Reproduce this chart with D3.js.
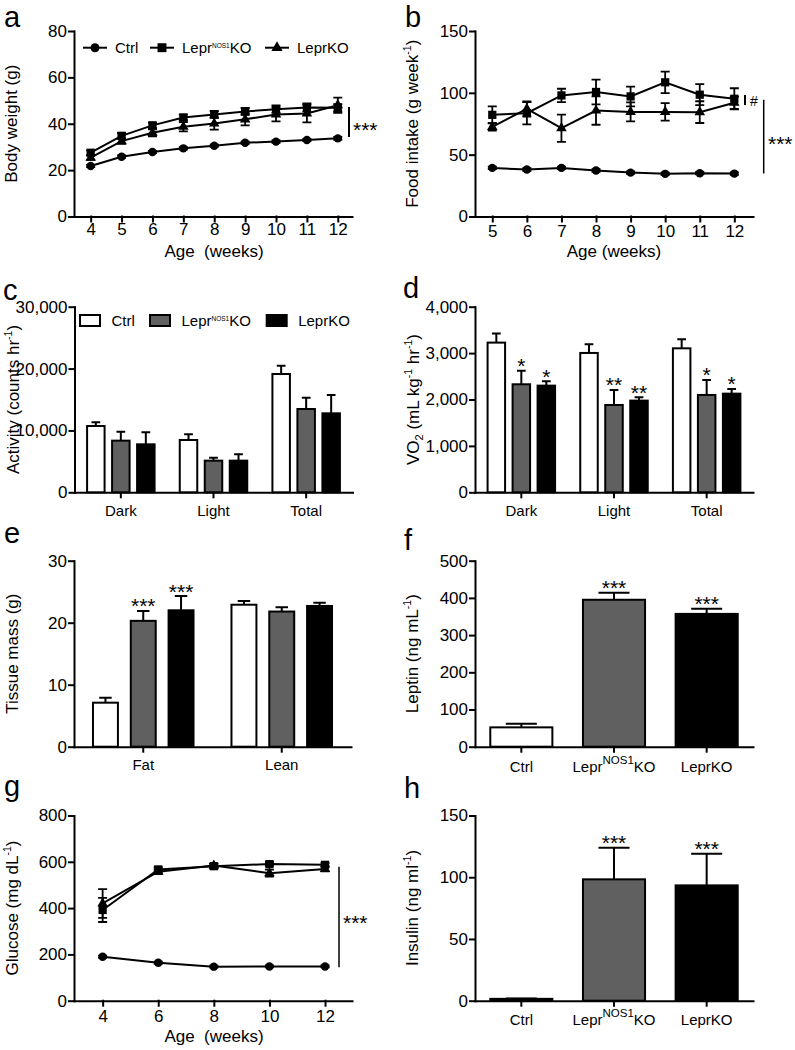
<!DOCTYPE html>
<html><head><meta charset="utf-8">
<script src="https://cdn.jsdelivr.net/npm/d3@7"></script>
<style>
body{margin:0;background:#fff;}
svg{display:block;font-family:"Liberation Sans",Arial,Helvetica,sans-serif;}
.axis path,.axis line{stroke:#000;stroke-width:2;stroke-linecap:square;}
.axis text{font-size:17px;fill:#000;font-family:"Liberation Sans",Arial,sans-serif;}
</style></head><body>
<script>
// ================= DATA =================
const seriesNames = ["Ctrl", "LeprNOS1KO", "LeprKO"];
// a: body weight
const aWeeks = [4, 5, 6, 7, 8, 9, 10, 11, 12];
const aCtrl = [21.8, 25.8, 27.8, 29.4, 30.5, 31.8, 32.3, 33.0, 33.7];
const aCtrlErr = [0.5, 0.5, 0.5, 0.5, 0.5, 0.5, 0.5, 0.5, 0.6];
const aNos1 = [27.5, 34.8, 39.3, 42.7, 44.0, 45.3, 46.3, 47.0, 46.9];
const aNos1Err = [1.0, 1.2, 1.2, 1.2, 1.5, 1.5, 1.6, 1.8, 1.6];
const aLepr = [25.4, 32.5, 36.1, 38.7, 40.1, 41.9, 44.0, 44.4, 48.0];
const aLeprErr = [1.0, 1.2, 1.5, 2.0, 2.6, 2.6, 3.0, 3.8, 3.3];
const aYTicks = [0, 20, 40, 60, 80];
const aBracket = [34.3, 47.2];
// b: food intake
const bWeeks = [5, 6, 7, 8, 9, 10, 11, 12];
const bCtrl = [39.3, 38.0, 39.3, 37.2, 35.5, 34.5, 35.0, 34.7];
const bCtrlErr = [1, 1, 1, 1, 1, 1, 1, 1];
const bNos1 = [82.2, 83.5, 97.9, 100.7, 97.1, 108.5, 98.5, 95.2];
const bNos1Err = [6.8, 9.0, 5.4, 10.0, 8.0, 8.7, 8.5, 8.5];
const bLepr = [72.5, 87.0, 71.4, 85.7, 84.6, 84.6, 84.4, 92.0];
const bLeprErr = [3.0, 6.0, 11.0, 11.5, 7.7, 7.0, 8.8, 5.0];
const bYTicks = [0, 50, 100, 150];
const bHash = [90.2, 98.3];
const bBracket = [34.8, 94.4];
// c: activity
const cGroups = ["Dark", "Light", "Total"];
const cCtrl = [10716, 8455, 19120];
const cCtrlErr = [593, 915, 1347];
const cNos1 = [8347, 5116, 13466];
const cNos1Err = [1454, 485, 1830];
const cLepr = [7755, 5116, 12765];
const cLeprErr = [1938, 1023, 2962];
const cYTicks = [0, 10000, 20000, 30000];
// d: VO2
const dGroups = ["Dark", "Light", "Total"];
const dCtrl = [3226, 3003, 3103];
const dCtrlErr = [194, 187, 194];
const dNos1 = [2328, 1882, 2098];
const dNos1Err = [294, 323, 323];
const dLepr = [2299, 1976, 2126];
const dLeprErr = [93, 71, 101];
const dNos1Stars = ["*", "**", "*"];
const dLeprStars = ["*", "**", "*"];
const dYTicks = [0, 1000, 2000, 3000, 4000];
// e: tissue mass
const eGroups = ["Fat", "Lean"];
const eCtrl = [7.1, 22.9];
const eCtrlErr = [0.8, 0.6];
const eNos1 = [20.3, 21.8];
const eNos1Err = [1.6, 0.7];
const eLepr = [22.0, 22.7];
const eLeprErr = [2.3, 0.5];
const eNos1Stars = ["***", ""];
const eLeprStars = ["***", ""];
const eYTicks = [0, 10, 20, 30];
// f: leptin
const fCats = ["Ctrl", "LeprNOS1KO", "LeprKO"];
const fVals = [52, 395, 357];
const fErr = [10, 19, 14];
const fStars = ["", "***", "***"];
const fYTicks = [0, 100, 200, 300, 400, 500];
// g: glucose
const gWeeks = [4, 6, 8, 10, 12];
const gCtrl = [190, 164, 147, 148, 148];
const gCtrlErr = [5, 5, 4, 4, 4];
const gNos1 = [392, 567, 581, 590, 587];
const gNos1Err = [52, 10, 10, 8, 8];
const gLepr = [420, 557, 584, 551, 569];
const gLeprErr = [62, 10, 8, 15, 10];
const gYTicks = [0, 200, 400, 600, 800];
const gBracket = [144, 579];
// h: insulin
const hCats = ["Ctrl", "LeprNOS1KO", "LeprKO"];
const hVals = [1.5, 98.3, 93.4];
const hErr = [0.3, 25.6, 25.6];
const hStars = ["", "***", "***"];
const hYTicks = [0, 50, 100, 150];

// ================= DRAWING =================
const FONT = '"Liberation Sans",Arial,sans-serif';
const GRAY = "#606060";
const fills = { "Ctrl": "#fff", "LeprNOS1KO": GRAY, "LeprKO": "#000" };
const svg = d3.select("body").append("svg").attr("width", 795).attr("height", 1050);

function rich(sel, parts, size) {
  sel.text(null);
  let pending = 0;
  parts.forEach(p => {
    if (typeof p === "string") {
      const t = sel.append("tspan").attr("font-size", size).text(p);
      if (pending) t.attr("dy", pending);
      pending = 0;
    } else if (p.sup !== undefined) {
      const fs = p.size || size * 0.62;
      const sh = p.shift || size * 0.42;
      sel.append("tspan").attr("font-size", fs).attr("dy", pending - sh).text(p.sup);
      pending = sh;
    } else if (p.sub !== undefined) {
      const fs = size * 0.65;
      const sh = size * 0.25;
      sel.append("tspan").attr("font-size", fs).attr("dy", pending + sh).text(p.sub);
      pending = -sh;
    }
  });
}
function catParts(name, supSize, supShift) {
  if (name === "LeprNOS1KO") return ["Lepr", { sup: "NOS1", size: supSize, shift: supShift }, "KO"];
  return [name];
}

function panelLetter(t, x, y) {
  svg.append("text").attr("x", x).attr("y", y).attr("font-size", 29)
    .attr("font-family", FONT).text(t);
}
function yTitle(parts, x, cy) {
  const t = svg.append("text").attr("transform", `translate(${x},${cy}) rotate(-90)`)
    .attr("text-anchor", "middle").attr("font-family", FONT).attr("font-size", 17);
  rich(t, parts, 17);
}
function xTitle(txt, cx, y) {
  svg.append("text").attr("x", cx).attr("y", y).attr("text-anchor", "middle")
    .attr("font-family", FONT).attr("font-size", 17)
    .style("white-space", "pre").text(txt);
}
function stars(txt, x, y, anchor) {
  svg.append("text").attr("x", x).attr("y", y).attr("text-anchor", anchor || "middle")
    .attr("font-family", FONT).attr("font-size", 21).text(txt);
}
function yAxis(y, left, ticks, fmt) {
  svg.append("g").attr("class", "axis").attr("transform", `translate(${left},0)`)
    .call(d3.axisLeft(y).tickValues(ticks).tickSize(5).tickPadding(2).tickSizeOuter(0).tickFormat(fmt));
}

function linePanel(o) {
  const x = d3.scaleLinear().domain(o.xDomain).range([o.left, o.right]);
  const y = d3.scaleLinear().domain([0, o.yMax]).range([o.bottom, o.top]);
  yAxis(y, o.left, o.yTicks, d3.format("d"));
  const gx = svg.append("g").attr("class", "axis").attr("transform", `translate(0,${o.bottom})`)
    .call(d3.axisBottom(x).tickValues(o.weeks).tickSize(5).tickSizeOuter(0).tickFormat(d3.format("d")));
  gx.selectAll(".tick text").attr("y", o.xLabOff).attr("dy", 0);

  const series = [
    { v: o.ctrl, e: o.ctrlErr, shape: "circle" },
    { v: o.lepr, e: o.leprErr, shape: "triangle" },
    { v: o.nos1, e: o.nos1Err, shape: "square" }
  ];
  const cap = 4.5;
  series.forEach(s => {
    const pts = o.weeks.map((w, i) => ({ w, v: s.v[i], e: s.e[i] }));
    svg.append("g").selectAll("path").data(pts).join("path")
      .attr("fill", "none").attr("stroke", "#000").attr("stroke-width", 1.8)
      .attr("d", p => {
        const cx = x(p.w), t = y(p.v + p.e), b = y(p.v - p.e);
        return `M${cx - cap},${t}H${cx + cap}M${cx},${t}V${b}M${cx - cap},${b}H${cx + cap}`;
      });
    svg.append("path").datum(pts).attr("fill", "none").attr("stroke", "#000").attr("stroke-width", 2)
      .attr("d", d3.line().x(p => x(p.w)).y(p => y(p.v)));
    const g = svg.append("g");
    if (s.shape === "circle") {
      g.selectAll("circle").data(pts).join("circle").attr("cx", p => x(p.w)).attr("cy", p => y(p.v)).attr("r", 4.2).attr("fill", "#000");
    } else {
      const sym = d3.symbol(s.shape === "square" ? d3.symbolSquare : d3.symbolTriangle, s.shape === "square" ? 68 : 48);
      g.selectAll("path").data(pts).join("path").attr("transform", p => `translate(${x(p.w)},${y(p.v)})`).attr("d", sym).attr("fill", "#000");
    }
  });
  return { x, y };
}

function barPanel(o) {
  const x0 = d3.scaleBand().domain(o.groups).range([o.left, o.right]).paddingInner(o.padIn || 0).paddingOuter(o.padOut || 0);
  const y = d3.scaleLinear().domain([0, o.yMax]).range([o.bottom, o.top]);
  yAxis(y, o.left, o.yTicks, o.yFmt || d3.format("d"));
  const gx = svg.append("g").attr("class", "axis").attr("transform", `translate(0,${o.bottom})`)
    .call(d3.axisBottom(x0).tickSize(5).tickSizeOuter(0));
  gx.selectAll(".tick text").attr("y", o.xLabOff).attr("dy", 0)
    .each(function (d) { rich(d3.select(this), catParts(d, 11.5, 8), 15); });
  let x1;
  if (o.innerWidth) {
    x1 = d3.scaleBand().domain(o.series.map(s => s.name)).range([-o.innerWidth / 2, o.innerWidth / 2])
      .paddingInner(o.innerPad).paddingOuter(o.innerPad / 2);
  }
  const bars = [];
  o.series.forEach(s => {
    o.groups.forEach((g, i) => {
      let bx, bw;
      if (x1) { bx = x0(g) + x0.bandwidth() / 2 + x1(s.name); bw = x1.bandwidth(); }
      else { bx = x0(g); bw = x0.bandwidth(); }
      bars.push({ bx, bw, v: s.v[i], e: s.e[i], fill: s.fill ? s.fill[i] : fills[s.name], star: s.stars ? s.stars[i] : "" });
    });
  });
  const gb = svg.append("g");
  gb.selectAll("path.err").data(bars).join("path").attr("class", "err")
    .attr("fill", "none").attr("stroke", "#000").attr("stroke-width", 2)
    .attr("d", b => {
      const cx = b.bx + b.bw / 2, t = y(b.v + b.e);
      return `M${cx},${y(b.v)}V${t}M${cx - b.bw / 4},${t}H${cx + b.bw / 4}`;
    });
  gb.selectAll("rect").data(bars).join("rect")
    .attr("x", b => b.bx).attr("width", b => b.bw)
    .attr("y", b => y(b.v)).attr("height", b => o.bottom - y(b.v))
    .attr("fill", b => b.fill).attr("stroke", "#000").attr("stroke-width", 2);
  bars.filter(b => b.star).forEach(b => stars(b.star, b.bx + b.bw / 2, y(b.v + b.e) + 2.5));
  return { x0, y };
}

// ---------- Panel a ----------
panelLetter("a", 4, 27);
const A = linePanel({ left: 74, right: 352, top: 31, bottom: 216.5, xDomain: [3.46, 12.46], yMax: 80, yTicks: aYTicks,
  weeks: aWeeks, ctrl: aCtrl, ctrlErr: aCtrlErr, nos1: aNos1, nos1Err: aNos1Err, lepr: aLepr, leprErr: aLeprErr, xLabOff: 18.5 });
yTitle(["Body  weight (g)"], 17, 123.7);
xTitle("Age  (weeks)", 214, 257);
svg.append("line").attr("x1", 349).attr("x2", 349).attr("y1", A.y(aBracket[1])).attr("y2", A.y(aBracket[0])).attr("stroke", "#000").attr("stroke-width", 2);
stars("***", 353, 137, "start");
// legend a
{
  const items = [{ lx: 95, name: "Ctrl", shape: "circle" }, { lx: 162, name: "LeprNOS1KO", shape: "square" }, { lx: 277, name: "LeprKO", shape: "triangle" }];
  const ly = 47.7;
  items.forEach(it => {
    svg.append("line").attr("x1", it.lx - 12).attr("x2", it.lx + 12).attr("y1", ly).attr("y2", ly).attr("stroke", "#000").attr("stroke-width", 2);
    if (it.shape === "circle") svg.append("circle").attr("cx", it.lx).attr("cy", ly).attr("r", 4.5);
    else svg.append("path").attr("transform", `translate(${it.lx},${ly})`).attr("d", d3.symbol(it.shape === "square" ? d3.symbolSquare : d3.symbolTriangle, it.shape === "square" ? 80 : 55)());
    const t = svg.append("text").attr("x", it.lx + 20).attr("y", 53.3).attr("font-family", FONT).attr("font-size", 15);
    rich(t, catParts(it.name, 6.5, 5), 15);
  });
}

// ---------- Panel b ----------
panelLetter("b", 405, 27);
const B = linePanel({ left: 475, right: 753, top: 31, bottom: 216.5, xDomain: [4.5, 12.54], yMax: 150, yTicks: bYTicks,
  weeks: bWeeks, ctrl: bCtrl, ctrlErr: bCtrlErr, nos1: bNos1, nos1Err: bNos1Err, lepr: bLepr, leprErr: bLeprErr, xLabOff: 20.5 });
yTitle(["Food intake (g week", { sup: "-1" }, ")"], 418, 123.7);
xTitle("Age (weeks)", 614, 257);
svg.append("line").attr("x1", 745).attr("x2", 745).attr("y1", B.y(bHash[1])).attr("y2", B.y(bHash[0])).attr("stroke", "#000").attr("stroke-width", 2);
svg.append("text").attr("x", 750).attr("y", 106).attr("font-family", FONT).attr("font-size", 14).text("#");
svg.append("line").attr("x1", 763.7).attr("x2", 763.7).attr("y1", B.y(bBracket[1])).attr("y2", B.y(bBracket[0])).attr("stroke", "#000").attr("stroke-width", 1.5);
stars("***", 768, 150.5, "start");

// ---------- Panel c ----------
panelLetter("c", 3, 300);
barPanel({ left: 74.5, right: 352.5, top: 306.7, bottom: 492.3, groups: cGroups, yMax: 30000, yTicks: cYTicks, yFmt: d3.format(","),
  innerWidth: 75, innerPad: 0.3, xLabOff: 23.5,
  series: [{ name: "Ctrl", v: cCtrl, e: cCtrlErr }, { name: "LeprNOS1KO", v: cNos1, e: cNos1Err }, { name: "LeprKO", v: cLepr, e: cLeprErr }] });
yTitle(["Activity  (counts hr", { sup: "-1" }, ")"], 19, 399.5);
{
  const items = [{ bx: 80, name: "Ctrl" }, { bx: 150, name: "LeprNOS1KO" }, { bx: 266.7, name: "LeprKO" }];
  items.forEach(it => {
    svg.append("rect").attr("x", it.bx).attr("y", 315).attr("width", 20).attr("height", 11)
      .attr("fill", fills[it.name]).attr("stroke", "#000").attr("stroke-width", 2);
    const t = svg.append("text").attr("x", it.bx + 31.5).attr("y", 326).attr("font-family", FONT).attr("font-size", 15);
    rich(t, catParts(it.name, 6.5, 5), 15);
  });
}

// ---------- Panel d ----------
panelLetter("d", 403, 298);
barPanel({ left: 475, right: 753, top: 306.7, bottom: 492.3, groups: dGroups, yMax: 4000, yTicks: dYTicks, yFmt: d3.format(","),
  innerWidth: 75, innerPad: 0.3, xLabOff: 23.5,
  series: [{ name: "Ctrl", v: dCtrl, e: dCtrlErr }, { name: "LeprNOS1KO", v: dNos1, e: dNos1Err, stars: dNos1Stars }, { name: "LeprKO", v: dLepr, e: dLeprErr, stars: dLeprStars }] });
yTitle(["VO", { sub: "2" }, "  (mL kg", { sup: "-1" }, " hr", { sup: "-1" }, ")"], 419, 399.5);

// ---------- Panel e ----------
panelLetter("e", 4, 543);
barPanel({ left: 74, right: 351, top: 560.7, bottom: 746.7, groups: eGroups, yMax: 30, yTicks: eYTicks,
  innerWidth: 113.4, innerPad: 0.34, xLabOff: 23.5,
  series: [{ name: "Ctrl", v: eCtrl, e: eCtrlErr }, { name: "LeprNOS1KO", v: eNos1, e: eNos1Err, stars: eNos1Stars }, { name: "LeprKO", v: eLepr, e: eLeprErr, stars: eLeprStars }] });
yTitle(["Tissue mass (g)"], 18, 653.7);

// ---------- Panel f ----------
panelLetter("f", 404, 550);
barPanel({ left: 475, right: 753, top: 560.7, bottom: 746.7, groups: fCats, yMax: 500, yTicks: fYTicks,
  padIn: 0.33, padOut: 0.165, xLabOff: 25,
  series: [{ name: "all", v: fVals, e: fErr, fill: fCats.map(c => fills[c]), stars: fStars }] });
yTitle(["Leptin  (ng mL", { sup: "-1" }, ")"], 418, 653.7);

// ---------- Panel g ----------
panelLetter("g", 4, 796);
const G = linePanel({ left: 74, right: 352, top: 815.5, bottom: 1000.7, xDomain: [2.97, 12.97], yMax: 800, yTicks: gYTicks,
  weeks: gWeeks, ctrl: gCtrl, ctrlErr: gCtrlErr, nos1: gNos1, nos1Err: gNos1Err, lepr: gLepr, leprErr: gLeprErr, xLabOff: 21 });
yTitle(["Glucose  (mg dL", { sup: "-1" }, ")"], 18, 908);
xTitle("Age  (weeks)", 214, 1042);
svg.append("line").attr("x1", 339).attr("x2", 339).attr("y1", G.y(gBracket[1])).attr("y2", G.y(gBracket[0])).attr("stroke", "#000").attr("stroke-width", 1.5);
stars("***", 343, 930, "start");

// ---------- Panel h ----------
panelLetter("h", 404, 798);
barPanel({ left: 475, right: 753, top: 815.5, bottom: 1000.7, groups: hCats, yMax: 150, yTicks: hYTicks,
  padIn: 0.33, padOut: 0.165, xLabOff: 24.5,
  series: [{ name: "all", v: hVals, e: hErr, fill: hCats.map(c => fills[c]), stars: hStars }] });
yTitle(["Insulin (ng ml", { sup: "-1" }, ")"], 418, 908);
</script>
</body></html>
